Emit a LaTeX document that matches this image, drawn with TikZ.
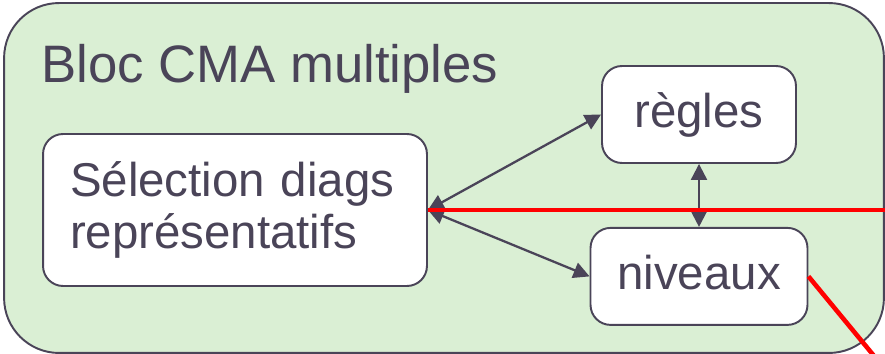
\documentclass[tikz,border=0pt]{standalone}
\usepackage{fontspec}
\setmainfont{Liberation Sans}
\usepackage{xcolor}
\usetikzlibrary{positioning, arrows.meta}
\definecolor{encre}{HTML}{4A4458}
\definecolor{vertclair}{HTML}{DAEFD4}
\tikzstyle{bloc} = [rectangle, rounded corners=1.1cm, minimum width=17.6cm, minimum height=7cm, inner sep=0pt, draw=encre, line width=1.1pt, fill=vertclair]
\tikzstyle{boite} = [rectangle, rounded corners=0.4cm, inner sep=0pt, draw=encre, line width=1.1pt, fill=white, text=encre, font=\fontsize{27}{29.6}\selectfont]
\tikzstyle{mot} = [boite, text height=20pt, text depth=5.4pt]
\tikzstyle{arrow} = [<->, >={Triangle[length=0.32cm, width=0.32cm]}, draw=encre, line width=1.3pt]
\tikzstyle{rouge} = [draw=red, line width=2.6pt]

\begin{document}
\begin{tikzpicture}[x=0.02cm, y=-0.02cm]
		\useasboundingbox (0,0) rectangle (885,354);
		%cadre du bloc et son titre
		\node[bloc](bloc) at (444,178){};
		\node[anchor=base west, inner sep=0pt, text=encre, font=\fontsize{30}{36}\selectfont](titre) at (41,83){Bloc CMA multiples};
		%les trois boites
		\node[boite, align=left, text width=6.6cm, minimum width=7.68cm, minimum height=3.04cm](sel) at (235,210){S\'election diags\\repr\'esentatifs};
		\node[mot, minimum width=3.88cm, minimum height=1.94cm](regles) at (699,114.5){r\`egles};
		\node[mot, minimum width=4.34cm, minimum height=1.94cm, below=1.26cm of regles](niv){niveaux};
		\coordinate (bordD) at (890,210);
		\coordinate (bordB) at (879,362);
		%liaisons
		\draw [arrow] (sel.east) -- (regles.west);
		\draw [arrow] (sel.east) -- (niv.west);
		\draw [arrow] (regles) -- (niv);
		\draw [rouge] (sel.east) -- (sel.east -| bordD);
		\draw [rouge] (niv.east) -- (bordB);

	\end{tikzpicture}
\end{document}
